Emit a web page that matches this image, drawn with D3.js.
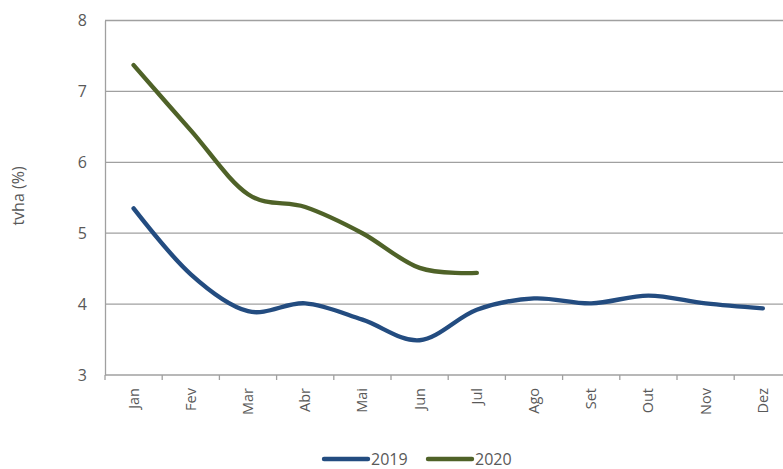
<!DOCTYPE html>
<html>
<head>
<meta charset="utf-8">
<script src="https://cdn.jsdelivr.net/npm/d3@7"></script>
<style>
  body { margin: 0; background: #fff; }
  svg { display: block; font-family: "Open Sans", sans-serif; }
</style>
</head>
<body>
<svg id="chart" width="783" height="469"></svg>
<script>
// Chart data
const months = ["Jan", "Fev", "Mar", "Abr", "Mai", "Jun", "Jul", "Ago", "Set", "Out", "Nov", "Dez"];
const v2019 = [5.35, 4.42, 3.9, 4.01, 3.78, 3.49, 3.92, 4.08, 4.01, 4.12, 4.01, 3.94];
const v2020 = [7.37, 6.45, 5.55, 5.37, 5.0, 4.51, 4.44];
const yTicks = [3, 4, 5, 6, 7, 8];

const series = [
  { name: "2019", values: v2019, color: "#234C80" },
  { name: "2020", values: v2020, color: "#4F6228" },
];

const svg = d3.select("#chart");
const plotLeft = 105, plotTop = 20.5, plotBottom = 375;
const bandW = 57.2;

const x = d3.scaleBand().domain(months).range([plotLeft, plotLeft + bandW * months.length]);
const y = d3.scaleLinear().domain([3, 8]).range([plotBottom, plotTop]);

const grid = "#A0A0A0";
const textCol = "#595959";

// Horizontal gridlines
svg.append("g").selectAll("line")
  .data(yTicks.filter(t => t > 3))
  .join("line")
  .attr("x1", plotLeft).attr("x2", 783)
  .attr("y1", d => y(d)).attr("y2", d => y(d))
  .attr("stroke", grid).attr("stroke-width", 1.3);

// Y axis
const yAxis = svg.append("g")
  .attr("transform", `translate(${plotLeft},0)`)
  .call(d3.axisLeft(y).tickValues(yTicks).tickFormat(d3.format("d")).tickSize(0).tickPadding(18));
yAxis.select(".domain").attr("stroke", grid).attr("stroke-width", 1.3);
yAxis.selectAll("text")
  .attr("font-size", 16).attr("fill", textCol)
  .attr("font-family", "Open Sans, sans-serif");

// X axis with tick marks at band edges
const xAxis = svg.append("g").attr("transform", `translate(0,${plotBottom})`);
xAxis.append("line")
  .attr("x1", plotLeft).attr("x2", 783)
  .attr("stroke", grid).attr("stroke-width", 1.3);
xAxis.selectAll(".tk")
  .data(months)
  .join("line")
  .attr("class", "tk")
  .attr("x1", d => x(d)).attr("x2", d => x(d))
  .attr("y1", 0).attr("y2", 5)
  .attr("stroke", grid).attr("stroke-width", 1.3);
xAxis.selectAll(".lbl")
  .data(months)
  .join("text")
  .attr("class", "lbl")
  .attr("transform", d => `translate(${x(d) + x.bandwidth() / 2 + 5},${13}) rotate(-90)`)
  .attr("text-anchor", "end")
  .attr("font-size", 14.5)
  .attr("fill", textCol)
  .text(d => d);

// Y axis title
svg.append("text")
  .attr("transform", "translate(24,196) rotate(-90)")
  .attr("text-anchor", "middle")
  .attr("font-size", 16)
  .attr("fill", textCol)
  .text("tvha (%)");

// Smoothed lines
const line = d3.line()
  .x((d, i) => x(months[i]) + x.bandwidth() / 2)
  .y(d => y(d))
  .curve(d3.curveCardinal.tension(0));

svg.append("g").selectAll("path")
  .data(series)
  .join("path")
  .attr("d", d => line(d.values))
  .attr("fill", "none")
  .attr("stroke", d => d.color)
  .attr("stroke-width", 4.4)
  .attr("stroke-linecap", "round")
  .attr("stroke-linejoin", "round");

// Legend
const legendX = [324, 428];
const lg = svg.append("g").selectAll("g")
  .data(series)
  .join("g")
  .attr("transform", (d, i) => `translate(${legendX[i]},459)`);
lg.append("line")
  .attr("x1", 0).attr("x2", 44)
  .attr("stroke", d => d.color)
  .attr("stroke-width", 4.4)
  .attr("stroke-linecap", "round");
lg.append("text")
  .attr("x", 47).attr("dy", "0.35em")
  .attr("font-size", 16)
  .attr("fill", textCol)
  .text(d => d.name);
</script>
</body>
</html>
